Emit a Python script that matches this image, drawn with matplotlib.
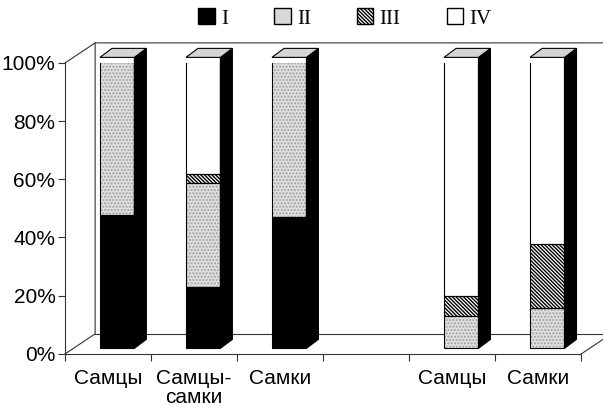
import matplotlib
matplotlib.use('Agg')
import matplotlib.pyplot as plt
from matplotlib.patches import Polygon, Patch
import numpy as np

categories = ['Самцы', 'Самцы-\nсамки', 'Самки', '', 'Самцы', 'Самки']
series_names = ['I', 'II', 'III', 'IV']
vals_I = [46, 21, 45, 0, 0, 0]
vals_II = [53, 36, 55, 0, 11, 14]
vals_III = [1, 3, 0, 0, 7, 22]
vals_IV = [0, 40, 0, 0, 82, 64]
yticks = [0, 20, 40, 60, 80, 100]

HATCH3 = '\\' * 9
# face, hatch, hatch colour
styles = [('black', '', 'black'),
          ('#e0e0e0', '.....', '#a0a0a0'),
          ('white', HATCH3, 'black'),
          ('white', '', 'black')]

plt.rcParams['font.family'] = ['Liberation Sans', 'DejaVu Sans']
plt.rcParams['hatch.linewidth'] = 1.0

fig = plt.figure(figsize=(6.03, 4.11), dpi=100)
ax = fig.add_axes([0.108, 0.139, 0.856, 0.708])
ax.set_xlim(-0.5, 5.5)
ax.set_ylim(0, 100)

# depth of the pseudo-3d box (pixels converted to data units)
DX, DY = 30 / 86, 20 / 291 * 100
BX, BY = 9 / 86, 5.5 / 291 * 100
bx, by = 12 / 86, 9 / 291 * 100
w = 0.4

lc = '#333333'
kw = dict(color=lc, lw=0.8, clip_on=False, zorder=1)
ax.plot([-0.5, -0.5 + DX, -0.5 + DX, 6.5], [0, DY, 100 + DY, 100 + DY], **kw)
ax.plot([-0.5, -0.5 + DX], [100, 100 + DY], **kw)
ax.plot([-0.5 + DX, 5.5 + DX], [DY, DY], **kw)
ax.plot([5.5, 5.5 + DX], [0, DY], **kw)

x = np.arange(len(categories))
data = np.array([vals_I, vals_II, vals_III, vals_IV], dtype=float)
bottom = np.full(len(categories), BY)
for vals, (fc, hatch, hc) in zip(data, styles):
    m = vals > 0
    ax.bar(x[m] + BX, vals[m], w, bottom=bottom[m], color=fc, hatch=hatch,
           edgecolor=hc, lw=0, zorder=3)
    ax.bar(x[m] + BX, vals[m], w, bottom=bottom[m], fill=False,
           edgecolor='black', lw=0.8, zorder=4)
    bottom += vals

totals = data.sum(axis=0)
for i in range(len(categories)):
    if totals[i] <= 0:
        continue
    xl = x[i] + BX - w / 2
    xr = x[i] + BX + w / 2
    b, t = BY, BY + totals[i]
    ax.add_patch(Polygon([(xr, b), (xr + bx, b + by), (xr + bx, t + by), (xr, t)],
                         closed=True, facecolor='black', edgecolor='black',
                         lw=0.8, zorder=4, clip_on=False))
    ax.add_patch(Polygon([(xl, t), (xr, t), (xr + bx, t + by), (xl + bx, t + by)],
                         closed=True, facecolor='#d4d4d4', edgecolor='black',
                         lw=0.8, zorder=4, clip_on=False))

ax.set_xticks(x)
ax.set_xticklabels(categories, fontsize=15, linespacing=1.0)
ax.set_xticks(np.arange(-0.5, 6, 1), minor=True)
ax.tick_params(axis='x', which='major', length=0, pad=11)
ax.tick_params(axis='x', which='minor', length=5, width=0.8, color=lc)
ax.set_yticks(yticks)
ax.set_yticklabels([f'{v}%' for v in yticks], fontsize=15)
ax.tick_params(axis='y', length=5, width=0.8, color=lc, pad=2)
for s in ['top', 'right']:
    ax.spines[s].set_visible(False)
for s in ['left', 'bottom']:
    ax.spines[s].set_color(lc)
    ax.spines[s].set_linewidth(0.8)

handles = [Patch(facecolor='black', edgecolor='black'),
           Patch(facecolor='#d8d8d8', edgecolor='black'),
           Patch(facecolor='white', edgecolor='black', hatch=HATCH3),
           Patch(facecolor='white', edgecolor='black')]
fig.legend(handles, series_names, loc='center', bbox_to_anchor=(0.572, 0.955),
           ncol=4, frameon=False, handlelength=0.8, handleheight=0.8,
           handletextpad=0.3, columnspacing=2.2,
           prop={'family': 'Liberation Serif', 'size': 15})

fig.savefig('out.png', dpi=100)
